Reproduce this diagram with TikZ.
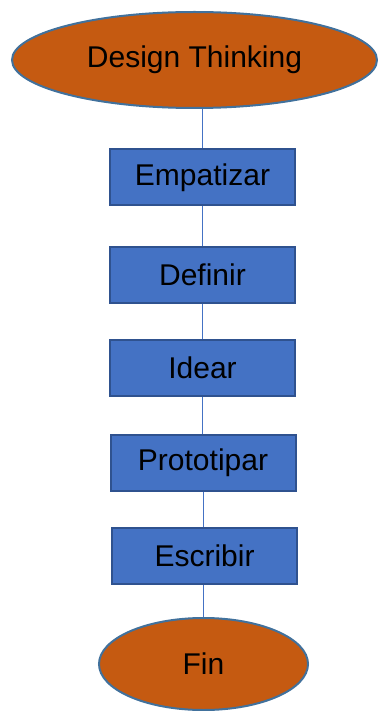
\documentclass[tikz,border=0pt]{standalone}
\usepackage{fontspec}
\setmainfont{Liberation Sans}
\usetikzlibrary{shapes.geometric}
\definecolor{orangefill}{HTML}{C55A11}
\definecolor{blueedge}{HTML}{41719C}
\definecolor{boxfill}{HTML}{4472C4}
\definecolor{boxedge}{HTML}{2F528F}
\tikzset{
  oval/.style={ellipse, draw=blueedge, line width=2pt, fill=orangefill, inner sep=0pt, font=\fontsize{30}{32}\selectfont},
  stepbox/.style={rectangle, draw=boxedge, line width=2pt, fill=boxfill, minimum width=185pt, minimum height=56pt, inner sep=0pt, font=\fontsize{30}{32}\selectfont},
  link/.style={draw=boxfill, line width=1.1pt}
}
\begin{document}
\begin{tikzpicture}[x=1pt,y=-1pt]
\useasboundingbox (0,0) rectangle (377,711);
\fill[white] (0,0) rectangle (377,711);
\node[oval, minimum width=365pt, minimum height=96pt] (dt) at (194.5,60) {Design Thinking};
\node[stepbox] (e) at (202.5,177.5) {Empatizar};
\node[stepbox] (d) at (202.5,274.5) {Definir};
\node[stepbox] (i) at (202.5,368) {Idear};
\node[stepbox] (p) at (203,463) {Prototipar};
\node[stepbox] (s) at (204.5,556) {Escribir};
\node[oval, minimum width=209pt, minimum height=92pt] (fin) at (203.5,664) {Fin};
\draw[link] (dt.south -| e.north) -- (e.north);
\draw[link] (e.south) -- (d.north);
\draw[link] (d.south) -- (i.north);
\draw[link] (i.south) -- (i.south |- p.north);
\draw[link] (p.south -| fin.north) -- (s.north -| fin.north);
\draw[link] (s.south -| fin.north) -- (fin.north);
\end{tikzpicture}
\end{document}
